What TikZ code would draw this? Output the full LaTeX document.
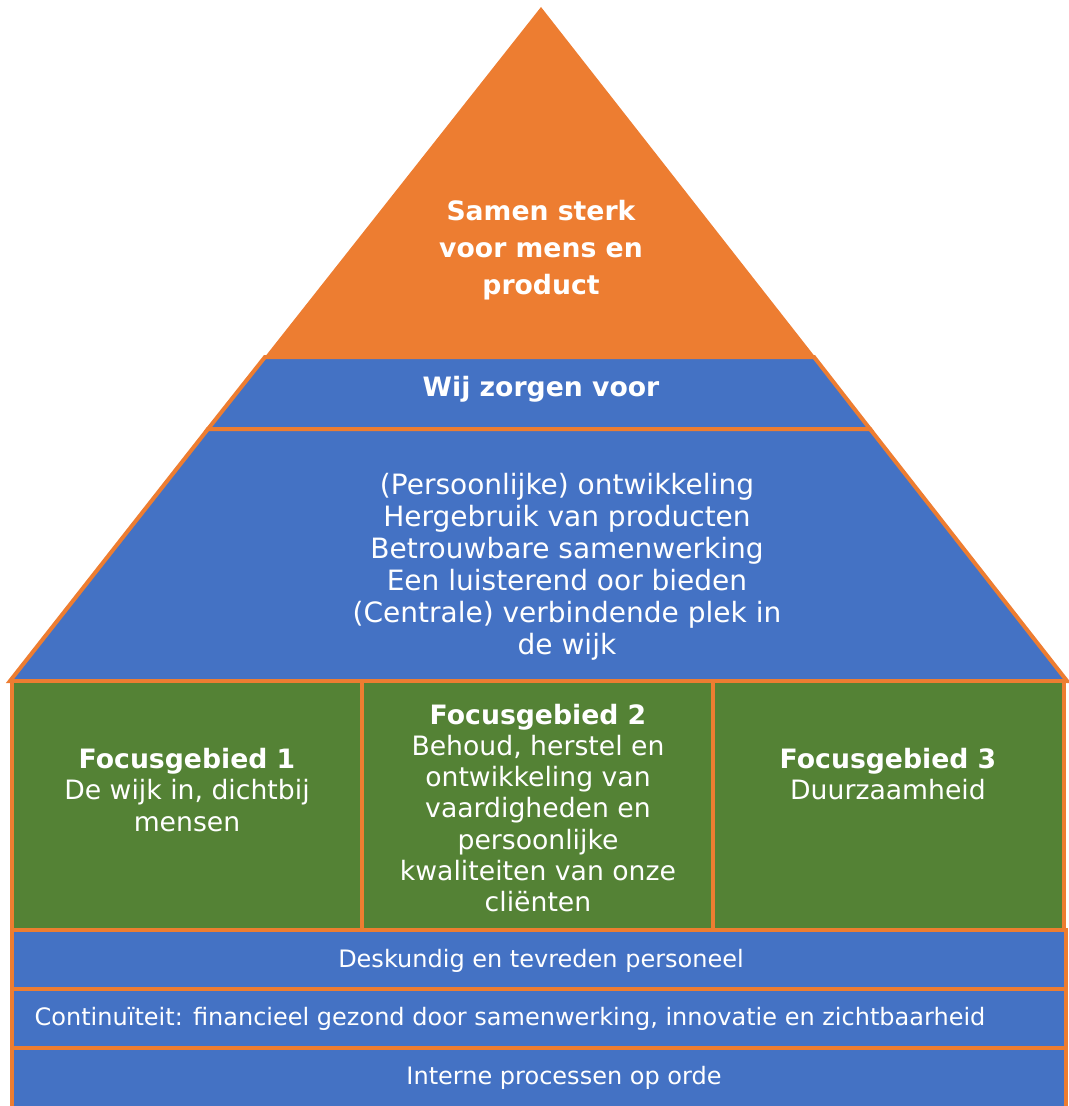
\documentclass[tikz,border=0pt]{standalone}
\usepackage{fontspec}
\setmainfont{DejaVu Sans}
\usetikzlibrary{positioning}
\definecolor{porange}{HTML}{ED7D31}
\definecolor{pblue}{HTML}{4472C4}
\definecolor{pgreen}{HTML}{548235}

\begin{document}
\begin{tikzpicture}[x=0.75pt, y=-0.75pt,
	layer/.style={fill=pblue, draw=porange, line width=3pt},
	focus/.style={fill=pgreen, draw=porange, line width=3pt},
	txt/.style={text=white, align=center, inner sep=0pt, font=\fontsize{20}{23.3}\selectfont},
	head/.style={txt, font=\fontsize{20}{27.8}\selectfont\bfseries},
	base/.style={txt, font=\fontsize{18}{20}\selectfont}]
	\useasboundingbox (0,0) rectangle (1068,1106);
	\fill[porange] (541,7) -- (816,358) -- (264,358) -- cycle;
	\draw[layer] (265,357) -- (814,357) -- (870,429) -- (208,429) -- cycle;
	\draw[layer] (208,429) -- (870,429) -- (1067,681) -- (10,681) -- cycle;
	\foreach \xa/\xb in {12/362, 362/713, 713/1064}
		\draw[focus] (\xa,681) rectangle (\xb,930);
	\foreach \ya/\yb in {930/989, 989/1048, 1048/1108}
		\draw[layer] (12,\ya) rectangle (1066,\yb);
	\node[head] (mission) at (541,250) {Samen sterk\\voor mens en\\product};
	\node[head] (wij) at (541,389) {Wij zorgen voor};
	\node[txt, font=\fontsize{21}{24}\selectfont] (values) at (567,567) {(Persoonlijke) ontwikkeling\\Hergebruik van producten\\Betrouwbare samenwerking\\Een luisterend oor bieden\\(Centrale) verbindende plek in\\de wijk};
	\node[txt] (focus1) at (187,790) {\textbf{Focusgebied 1}\\De wijk in, dichtbij\\mensen};
	\node[txt] (focus2) at (538,808) {\textbf{Focusgebied 2}\\Behoud, herstel en\\ontwikkeling van\\vaardigheden en\\persoonlijke\\kwaliteiten van onze\\cliënten};
	\node[txt] (focus3) at (888,774) {\textbf{Focusgebied 3}\\Duurzaamheid};
	\node[base] (staff) at (541,961) {Deskundig en tevreden personeel};
	\node[base] (cont) at (510,1019) {Continuïteit: financieel gezond door samenwerking, innovatie en zichtbaarheid};
	\node[base] (proc) at (564,1078) {Interne processen op orde};
\end{tikzpicture}
\end{document}
